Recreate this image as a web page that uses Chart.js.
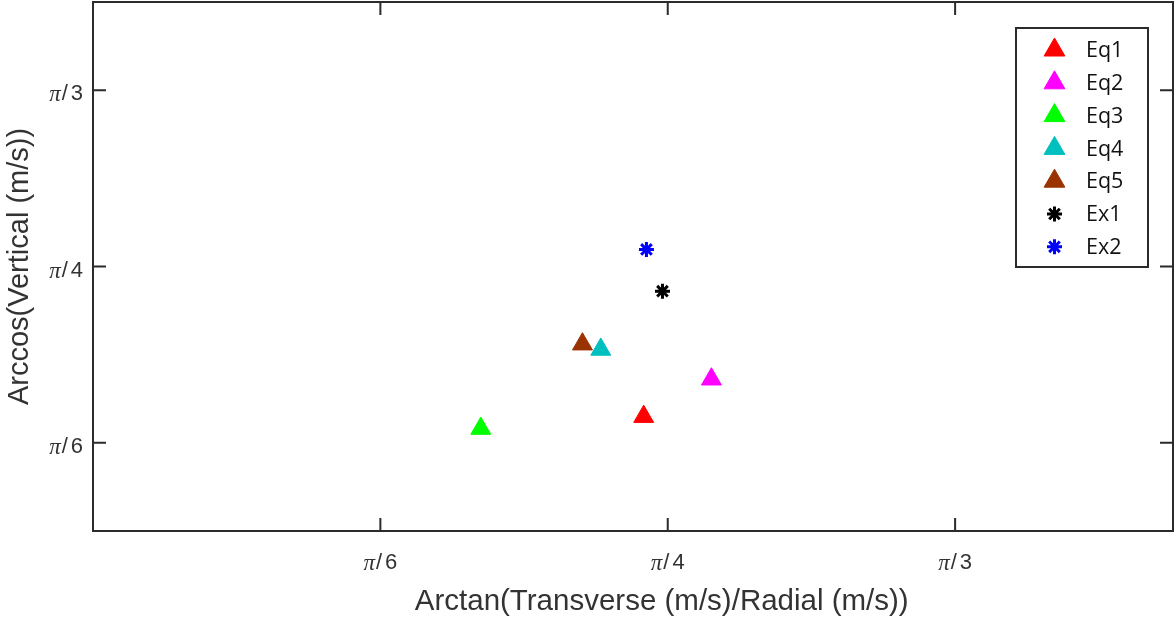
<!DOCTYPE html>
<html lang="en">
<head>
    <meta charset="UTF-8">
    <title>Arctan vs Arccos scatter</title>
    <style>
        html, body {
            margin: 0;
            padding: 0;
            background: #fff;
        }
        .wrap {
            position: relative;
            width: 1175px;
            height: 620px;
        }
    </style>
    <script src="https://cdn.jsdelivr.net/npm/chart.js"></script>
</head>
<body>
    <div class="wrap">
        <canvas id="chart" width="1175" height="620"></canvas>
    </div>

    <script>
        // data (radians)
        const seriesLabels = ['Eq1', 'Eq2', 'Eq3', 'Eq4', 'Eq5', 'Ex1', 'Ex2'];
        const xValues = [0.7635, 0.8252, 0.6151, 0.7244, 0.7077, 0.7806, 0.7660];
        const yValues = [0.5625, 0.6180, 0.5448, 0.6622, 0.6701, 0.7487, 0.8107];
        const markers = ['triangle', 'triangle', 'triangle', 'triangle', 'triangle', 'star', 'star'];
        const colors = ['#ff0000', '#ff00ff', '#00ff00', '#00bfbf', '#993300', '#000000', '#0000ff'];

        // ticks
        const tickValues = [Math.PI / 6, Math.PI / 4, Math.PI / 3];
        const tickLabels = ['π/6', 'π/4', 'π/3'];

        const xMin = Math.PI / 12, xMax = 1.2457;
        const yMin = Math.PI / 8, yMax = 3 * Math.PI / 8;

        const xTitle = 'Arctan(Transverse (m/s)/Radial (m/s))';
        const yTitle = 'Arccos(Vertical (m/s))';

        const axisColor = '#2b2b2b';
        const textColor = '#333333';
        const sansFont = '"Liberation Sans", Arial, sans-serif';

        const datasets = seriesLabels.map((label, i) => ({
            label: label,
            data: [{ x: xValues[i], y: yValues[i] }],
            pointStyle: markers[i],
            pointRadius: markers[i] === 'star' ? 7.5 : 11.5,
            pointHoverRadius: markers[i] === 'star' ? 7.5 : 11.5,
            pointBorderWidth: markers[i] === 'star' ? 3 : 1,
            backgroundColor: colors[i],
            borderColor: colors[i]
        }));

        // "π" in italic serif, then "/" and the digit in sans, spaced like the original
        function drawPiLabel(ctx, text, x, y, align) {
            const pi = text.charAt(0);
            const slash = text.charAt(1);
            const digit = text.slice(2);
            const piFont = 'italic 23px "Liberation Serif", "DejaVu Serif", serif';
            const restFont = '22px ' + sansFont;
            ctx.font = piFont;
            const wPi = ctx.measureText(pi).width;
            ctx.font = restFont;
            const wSlash = ctx.measureText(slash).width;
            const wDigit = ctx.measureText(digit).width;
            const gap1 = 1, gap2 = 3;
            const total = wPi + gap1 + wSlash + gap2 + wDigit;
            let left = x - total / 2;
            if (align === 'right') left = x - total;
            ctx.textBaseline = 'middle';
            ctx.textAlign = 'left';
            ctx.fillStyle = textColor;
            ctx.font = piFont;
            ctx.fillText(pi, left, y + 1);
            ctx.font = restFont;
            ctx.fillText(slash, left + wPi + gap1, y);
            ctx.fillText(digit, left + wPi + gap1 + wSlash + gap2, y);
        }

        // box, inward ticks, tick labels, x title
        const axesBox = {
            id: 'axesBox',
            beforeDatasetsDraw(chart) {
                const { ctx, chartArea: a, scales } = chart;
                const tick = 13;
                ctx.save();
                ctx.strokeStyle = axisColor;
                ctx.lineWidth = 2;
                ctx.strokeRect(a.left, a.top, a.right - a.left, a.bottom - a.top);
                ctx.beginPath();
                scales.x.ticks.forEach(t => {
                    const px = scales.x.getPixelForValue(t.value);
                    ctx.moveTo(px, a.bottom); ctx.lineTo(px, a.bottom - tick);
                    ctx.moveTo(px, a.top); ctx.lineTo(px, a.top + tick);
                });
                scales.y.ticks.forEach(t => {
                    const py = scales.y.getPixelForValue(t.value);
                    ctx.moveTo(a.left, py); ctx.lineTo(a.left + tick, py);
                    ctx.moveTo(a.right, py); ctx.lineTo(a.right - tick, py);
                });
                ctx.stroke();

                scales.x.ticks.forEach((t, i) => {
                    drawPiLabel(ctx, tickLabels[i], scales.x.getPixelForValue(t.value), a.bottom + 32, 'center');
                });
                scales.y.ticks.forEach((t, i) => {
                    drawPiLabel(ctx, tickLabels[i], a.left - 10, scales.y.getPixelForValue(t.value) + 4, 'right');
                });

                // x title sits a bit right of the axes centre in the original
                ctx.fillStyle = textColor;
                ctx.font = '29.5px ' + sansFont;
                ctx.textAlign = 'center';
                ctx.textBaseline = 'middle';
                ctx.fillText(xTitle, scales.x.getPixelForValue(Math.PI / 4) - 6, a.bottom + 71);
                ctx.restore();
            },
            afterDraw(chart) {
                // legend box in the upper right of the axes
                const { ctx } = chart;
                const bx = 1016, by = 28, bw = 132, bh = 239;
                ctx.save();
                ctx.fillStyle = '#ffffff';
                ctx.fillRect(bx, by, bw, bh);
                ctx.strokeStyle = axisColor;
                ctx.lineWidth = 2;
                ctx.strokeRect(bx, by, bw, bh);
                chart.data.datasets.forEach((ds, i) => {
                    const rowY = 50 + i * 32.8;
                    ctx.fillStyle = ds.backgroundColor;
                    ctx.strokeStyle = ds.borderColor;
                    ctx.lineWidth = ds.pointBorderWidth;
                    Chart.helpers.drawPoint(ctx, {
                        pointStyle: ds.pointStyle,
                        radius: ds.pointStyle === 'star' ? 7.5 : 12,
                        rotation: 0,
                        borderWidth: ds.pointBorderWidth
                    }, 1054.5, rowY);
                    ctx.fillStyle = '#111111';
                    ctx.font = '21.5px "Open Sans", "Noto Sans", sans-serif';
                    ctx.textAlign = 'left';
                    ctx.textBaseline = 'middle';
                    ctx.fillText(ds.label, 1086, rowY + 1);
                });
                ctx.restore();
            }
        };

        const whiteBg = {
            id: 'whiteBg',
            beforeDraw(chart) {
                const { ctx, width, height } = chart;
                ctx.save();
                ctx.fillStyle = '#ffffff';
                ctx.fillRect(0, 0, width, height);
                ctx.restore();
            }
        };

        new Chart(document.getElementById('chart').getContext('2d'), {
            type: 'scatter',
            data: { datasets: datasets },
            options: {
                responsive: false,
                animation: false,
                layout: { autoPadding: false, padding: { top: 2, right: 2, left: 0, bottom: 0 } },
                plugins: {
                    legend: { display: false },
                    tooltip: { enabled: false }
                },
                scales: {
                    x: {
                        type: 'linear',
                        min: xMin,
                        max: xMax,
                        afterBuildTicks: scale => { scale.ticks = tickValues.map(v => ({ value: v })); },
                        afterFit: scale => { scale.height = 89; },
                        grid: { display: false },
                        border: { display: false },
                        ticks: { display: false },
                        title: { display: false }
                    },
                    y: {
                        type: 'linear',
                        min: yMin,
                        max: yMax,
                        afterBuildTicks: scale => { scale.ticks = tickValues.map(v => ({ value: v })); },
                        afterFit: scale => { scale.width = 93; },
                        grid: { display: false },
                        border: { display: false },
                        ticks: { display: false },
                        title: {
                            display: true,
                            text: yTitle,
                            color: textColor,
                            font: { family: sansFont, size: 29 },
                            padding: { top: 3, bottom: 0 }
                        }
                    }
                }
            },
            plugins: [whiteBg, axesBox]
        });
    </script>
</body>
</html>
